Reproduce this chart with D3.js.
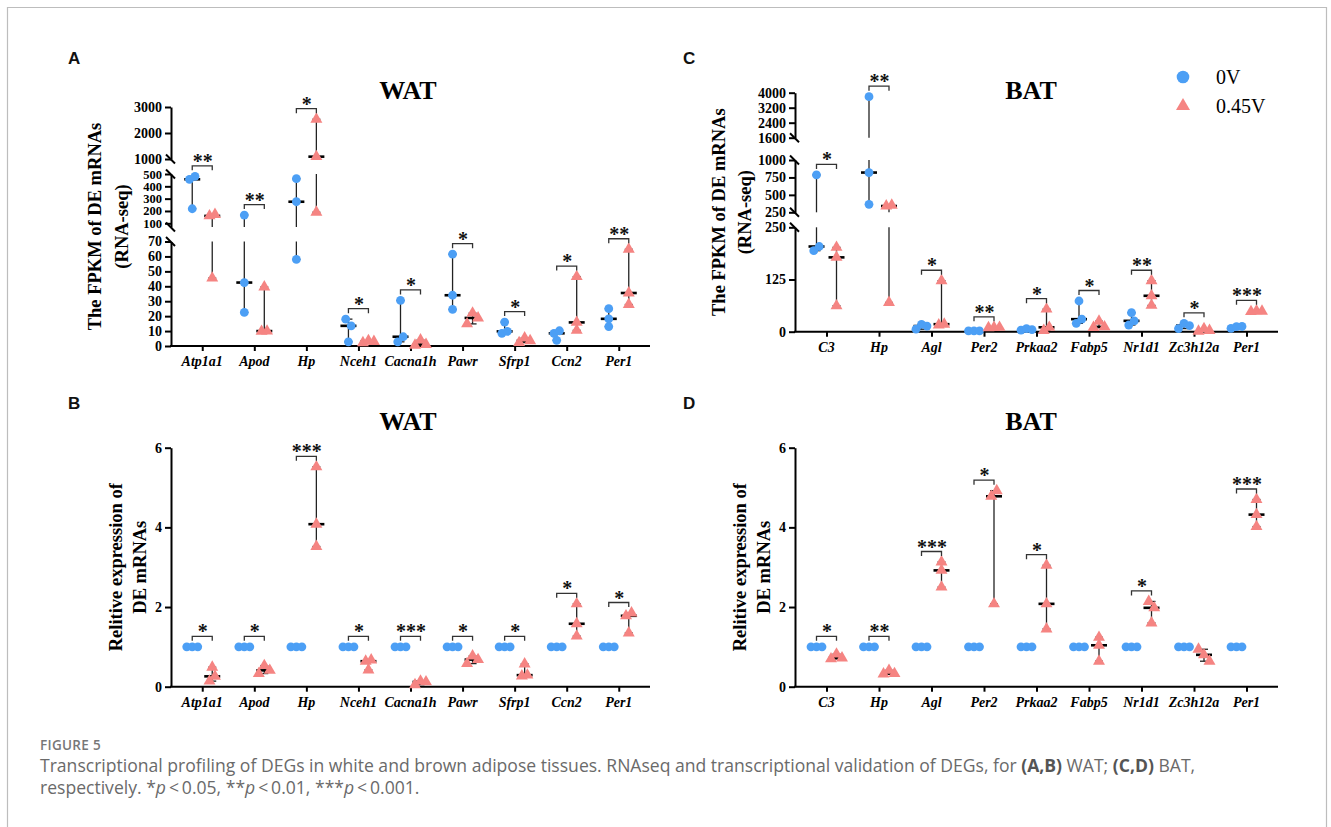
<!DOCTYPE html>
<html><head><meta charset="utf-8">
<script src="https://cdn.jsdelivr.net/npm/d3@7"></script>
<style>body{margin:0;background:#fff}svg{display:block}</style>
</head><body>
<svg id="fig" width="1331" height="827"></svg>
<script>
// ---------------- DATA ----------------
const genesWAT = ["Atp1a1","Apod","Hp","Nceh1","Cacna1h","Pawr","Sfrp1","Ccn2","Per1"];
const genesBAT = ["C3","Hp","Agl","Per2","Prkaa2","Fabp5","Nr1d1","Zc3h12a","Per1"];
const groupNames = ["0V","0.45V"];

// A: WAT FPKM (RNA-seq)
const fpkmWAT_0V = [[457,481,218],[167,42.5,22.5],[462,275,58],[18,13.5,2.8],[30.5,2.8,6.2],[61.5,34,24.5],[8.5,16,9.8],[3.8,8.5,10.2],[25,18.2,13]];
const fpkmWAT_045V = [[160,172,45.5],[39.5,9.8,10],[2530,1090,190],[2.2,3.6,3],[0.5,4,1],[14.8,22,18.8],[2.3,5.4,3.5],[46.5,15.8,10.5],[64.8,35.5,27.8]];
const sigFpkmWAT = ["**","**","*","*","*","*","*","*","**"];
const ticksFpkmWAT = [[0,10,20,30,40,50,60,70],[100,200,300,400,500],[1000,2000,3000]];

// C: BAT FPKM (RNA-seq)
const fpkmBAT_0V = [[194,204,786],[3790,820,365],[6,17.5,13.5],[1.8,2.2,2],[4,7.5,5],[20,73.5,30],[16,45.5,26],[7.5,20,14.5],[8,12,12.5]];
const fpkmBAT_045V = [[202,178,62],[340,352,70],[16,122,18],[9.5,10,10.5],[3,54,10.5],[10,25,11.5],[122,86,63],[1,7,3],[48,50,49]];
const sigFpkmBAT = ["*","**","*","**","*","*","**","*","***"];
const ticksFpkmBAT = [[0,125,250],[250,500,750,1000],[1600,2400,3200,4000]];

// B: WAT relative expression (qPCR)
const relWAT_0V = [[1,1,1],[1,1,1],[1,1,1],[1,1,1],[1,1,1],[1,1,1],[1,1,1],[1,1,1],[1,1,1]];
const relWAT_045V = [[0.14,0.49,0.26],[0.33,0.53,0.41],[5.52,4.08,3.52],[0.64,0.42,0.67],[0.05,0.14,0.12],[0.58,0.77,0.68],[0.27,0.57,0.29],[2.08,1.58,1.27],[1.35,1.78,1.85]];
const sigRelWAT = ["*","*","***","*","***","*","*","*","*"];

// D: BAT relative expression (qPCR)
const relBAT_0V = [[1,1,1],[1,1,1],[1,1,1],[1,1,1],[1,1,1],[1,1,1],[1,1,1],[1,1,1],[1,1,1]];
const relBAT_045V = [[0.7,0.82,0.72],[0.32,0.41,0.33],[3.13,2.92,2.5],[4.78,4.92,2.08],[3.05,2.08,1.45],[1.24,1.04,0.64],[2.14,1.98,1.6],[0.94,0.8,0.64],[4.7,4.32,4.02]];
const sigRelBAT = ["*","**","***","*","*","","*","","***"];
const ticksRel = [[0,2,4,6]];

// ---------------- STYLE / LAYOUT ----------------
const BLUE = "#4c9ff5", RED = "#f58482";
const SERIF = "'Liberation Serif','Times New Roman',serif";
const SANS = "'Liberation Sans',Arial,sans-serif";

const panels = [
  {letter:"A", lx:68, ly:64, title:"WAT", tx:408, ty:99, x0:171, x1:650,
   yTitle:["The FPKM of DE mRNAs","(RNA-seq)"], yTx:[95,122],
   segs:[{d:[0,70],r:[346,241.5]},{d:[70,500],r:[227,174]},{d:[1000,3000],r:[159,107]}],
   ticks:ticksFpkmWAT, cats:genesWAT, g0:fpkmWAT_0V, g1:fpkmWAT_045V, sig:sigFpkmWAT},
  {letter:"C", lx:683, ly:64, title:"BAT", tx:1031, ty:99, x0:795, x1:1278,
   yTitle:["The FPKM of DE mRNAs","(RNA-seq)"], yTx:[719,745],
   segs:[{d:[0,250],r:[331.7,227.3]},{d:[250,1000],r:[212.3,160]},{d:[1600,4000],r:[137.7,92.7]}],
   ticks:ticksFpkmBAT, cats:genesBAT, g0:fpkmBAT_0V, g1:fpkmBAT_045V, sig:sigFpkmBAT, legend:true},
  {letter:"B", lx:68, ly:409, title:"WAT", tx:408, ty:430, x0:171, x1:650,
   yTitle:["Relitive expression of","DE mRNAs"], yTx:[116,140],
   segs:[{d:[0,6],r:[686.7,447.7]}],
   ticks:ticksRel, cats:genesWAT, g0:relWAT_0V, g1:relWAT_045V, sig:sigRelWAT},
  {letter:"D", lx:683, ly:409, title:"BAT", tx:1031, ty:430, x0:795, x1:1278,
   yTitle:["Relitive expression of","DE mRNAs"], yTx:[740,764],
   segs:[{d:[0,6],r:[686.7,447.7]}],
   ticks:ticksRel, cats:genesBAT, g0:relBAT_0V, g1:relBAT_045V, sig:sigRelBAT}
];

const svg = d3.select("#fig");
svg.append("rect").attr("width",1331).attr("height",827).attr("fill","#fff");
// frame
svg.append("path").attr("d","M7.5,900 V7.5 H1326.5 V900").attr("fill","none").attr("stroke","#bdbdbd").attr("stroke-width",1.2);

function makeY(segs){
  segs.forEach(s=>s.scale=d3.scaleLinear().domain(s.d).range(s.r));
  return v=>{
    for(const s of segs){ if(v>=s.d[0] && v<=s.d[1]) return s.scale(v); }
    let best=segs[0];
    for(const s of segs){ if(v>s.d[1]) best=s; }
    return best.scale(v);
  };
}

function swarm(vals, y, cx){
  const items = vals.map((v,i)=>({v,i,py:y(v)}));
  const sorted = items.slice().sort((a,b)=>a.py-b.py);
  const clusters=[]; let cur=[sorted[0]];
  for(let k=1;k<sorted.length;k++){
    if(sorted[k].py-sorted[k-1].py<7) cur.push(sorted[k]); else {clusters.push(cur);cur=[sorted[k]];}
  }
  clusters.push(cur);
  clusters.forEach(c=>{c.sort((a,b)=>a.i-b.i); c.forEach((p,j)=>p.px=cx+(j-(c.length-1)/2)*5.5);});
  return items;
}

panels.forEach(P=>{
  const g = svg.append("g");
  const y = makeY(P.segs);
  const yBottom = P.segs[0].r[0];
  const x = d3.scalePoint().domain(P.cats).range([P.x0,P.x1]).padding(0.6);

  g.append("text").attr("x",P.lx).attr("y",P.ly).text(P.letter)
    .attr("font-family",SANS).attr("font-weight","bold").attr("font-size",17).attr("fill","#111");
  g.append("text").attr("x",P.tx).attr("y",P.ty).attr("text-anchor","middle").text(P.title)
    .attr("font-family",SERIF).attr("font-weight","bold").attr("font-size",26).attr("fill","#000");
  const yMid = (P.segs[0].r[0]+P.segs[P.segs.length-1].r[1])/2;
  P.yTitle.forEach((t,i)=>{
    g.append("text").attr("transform",`translate(${P.yTx[i]},${yMid}) rotate(-90)`)
      .attr("text-anchor","middle").attr("dominant-baseline","central").text(t)
      .attr("font-family",SERIF).attr("font-weight","bold").attr("font-size",18.5).attr("fill","#000");
  });

  P.segs.forEach((s,i)=>{
    const ax = g.append("g").attr("transform",`translate(${P.x0},0)`)
      .call(d3.axisLeft(s.scale).tickValues(P.ticks[i]).tickSize(6).tickSizeOuter(0).tickPadding(3).tickFormat(d3.format("d")));
    ax.select(".domain").attr("stroke","#000").attr("stroke-width",2);
    ax.selectAll(".tick line").attr("stroke","#000").attr("stroke-width",2);
    ax.selectAll(".tick text").attr("font-family",SERIF).attr("font-weight","bold")
      .attr("font-size",P.ticks[i].length>4 && (s.r[0]-s.r[1])/(P.ticks[i].length-1)<14 ? 12.5 : 14).attr("fill","#000");
    const ends=[];
    if(i>0) ends.push(s.r[0]);
    if(i<P.segs.length-1) ends.push(s.r[1]);
    ends.forEach(ye=>{
      g.append("line").attr("x1",P.x0-5).attr("y1",ye-4.5).attr("x2",P.x0+4).attr("y2",ye+4.5)
        .attr("stroke","#000").attr("stroke-width",2);
    });
  });

  const xa = g.append("g").attr("transform",`translate(0,${yBottom})`)
    .call(d3.axisBottom(x).tickSize(5).tickSizeOuter(0).tickFormat(""));
  xa.select(".domain").attr("d",`M${P.x0-1},0H${P.x1}`).attr("stroke","#000").attr("stroke-width",2);
  xa.selectAll(".tick line").attr("stroke","#000").attr("stroke-width",2);
  g.selectAll(".catlab").data(P.cats).enter().append("text")
    .attr("x",d=>x(d)).attr("y",yBottom+20).attr("text-anchor","middle").text(d=>d)
    .attr("font-family",SERIF).attr("font-weight","bold").attr("font-style","italic").attr("font-size",14).attr("fill","#000");

  const lines = g.append("g"), pts = g.append("g"), sigG = g.append("g");
  const tri = d3.symbol().type(d3.symbolTriangle).size(62);

  P.cats.forEach((c,ci)=>{
    [P.g0[ci],P.g1[ci]].forEach((vals,gi)=>{
      const cx = x(c)+(gi===0?-10:10);
      const [mn,mx]=d3.extent(vals), md=d3.median(vals);
      P.segs.forEach(s=>{
        const lo=Math.max(mn,s.d[0]), hi=Math.min(mx,s.d[1]);
        if(lo<hi) lines.append("line").attr("x1",cx).attr("x2",cx).attr("y1",s.scale(lo)).attr("y2",s.scale(hi))
          .attr("stroke","#222").attr("stroke-width",1.3);
      });
      [mn,mx].forEach(v=>lines.append("line").attr("x1",cx-4).attr("x2",cx+4).attr("y1",y(v)).attr("y2",y(v))
          .attr("stroke","#222").attr("stroke-width",1.3));
      lines.append("line").attr("x1",cx-8).attr("x2",cx+8).attr("y1",y(md)).attr("y2",y(md))
          .attr("stroke","#000").attr("stroke-width",2.6);
      const items = swarm(vals,y,cx);
      if(gi===0){
        pts.selectAll(null).data(items).enter().append("circle")
          .attr("cx",d=>d.px).attr("cy",d=>d.py).attr("r",4.4).attr("fill",BLUE);
      } else {
        pts.selectAll(null).data(items).enter().append("path").attr("d",tri)
          .attr("transform",d=>`translate(${d.px},${d.py})`).attr("fill",RED);
      }
    });
    const s = P.sig[ci];
    if(s){
      const top = y(Math.max(d3.max(P.g0[ci]),d3.max(P.g1[ci]))) - 10.5;
      const xa0 = x(c)-10, xa1 = x(c)+10;
      sigG.append("path").attr("d",`M${xa0},${top+4.5}V${top}H${xa1}V${top+4.5}`)
        .attr("fill","none").attr("stroke","#333").attr("stroke-width",1.3);
      sigG.append("text").attr("x",x(c)+0.5).attr("y",top+2).attr("text-anchor","middle").text(s)
        .attr("font-family",SERIF).attr("font-weight","bold").attr("font-size",20).attr("fill","#111");
    }
  });

  if(P.legend){
    const lg = g.append("g");
    lg.append("circle").attr("cx",1183).attr("cy",77).attr("r",6.3).attr("fill",BLUE);
    lg.append("path").attr("d",d3.symbol().type(d3.symbolTriangle).size(85)).attr("transform","translate(1183,106)").attr("fill",RED);
    groupNames.forEach((n,i)=>lg.append("text").attr("x",1216).attr("y",77+i*29).attr("dominant-baseline","central").text(n)
      .attr("font-family",SERIF).attr("font-size",20).attr("fill","#000"));
  }
});

// ---------------- CAPTION ----------------
const CAP = "'Open Sans','Noto Sans',sans-serif";
svg.append("text").attr("x",40).attr("y",750).text("FIGURE 5")
  .attr("font-family",CAP).attr("font-weight",600).attr("font-size",13.5).attr("letter-spacing",0.3).attr("fill","#777");
const l1 = svg.append("text").attr("x",40).attr("y",772).attr("font-family",CAP).attr("font-size",17).attr("fill","#6a6a6a");
l1.append("tspan").text("Transcriptional profiling of DEGs in white and brown adipose tissues. RNAseq and transcriptional validation of DEGs, for ");
l1.append("tspan").attr("font-weight",700).attr("fill","#555").text("(A,B)");
l1.append("tspan").text(" WAT; ");
l1.append("tspan").attr("font-weight",700).attr("fill","#555").text("(C,D)");
l1.append("tspan").text(" BAT,");
const l2 = svg.append("text").attr("x",40).attr("y",794).attr("font-family",CAP).attr("font-size",17).attr("fill","#6a6a6a");
[["respectively. *",0],["p",1],["\u2009<\u20090.05, **",0],["p",1],["\u2009<\u20090.01, ***",0],["p",1],["\u2009<\u20090.001.",0]]
  .forEach(([t,it])=>{const ts=l2.append("tspan").text(t); if(it) ts.attr("font-style","italic");});
const w = l1.node().getComputedTextLength();
const fs = 17*1156/w;
l1.attr("font-size",fs); l2.attr("font-size",fs);
</script>
</body></html>
